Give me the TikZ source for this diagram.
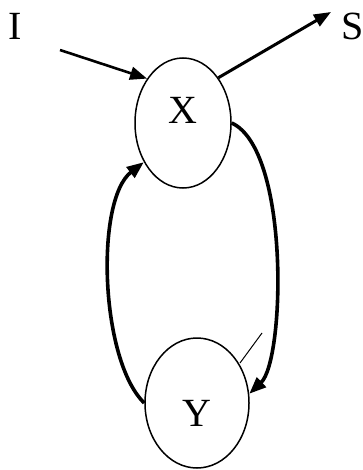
\documentclass[tikz,border=0pt]{standalone}
\usepackage{fontspec}
\setmainfont{Liberation Serif}
\usetikzlibrary{shapes.geometric,arrows.meta}
\tikzset{
  state/.style={draw=black,ellipse,line width=1.5pt,inner sep=0pt},
  lab/.style={font=\fontsize{40}{44}\selectfont},
  tip/.style={-{Triangle[length=17pt,width=13pt]}}
}
\begin{document}
\begin{tikzpicture}[x=1pt,y=-1pt]
    \useasboundingbox (0,0) rectangle (363,470);
    \node[state,minimum width=96pt,minimum height=130pt] (x) at (183,123) {};
    \node[state,minimum width=104pt,minimum height=130pt] (y) at (197,403) {};
    \node[lab] (xl) at (183,110) {X};
    \node[lab] (yl) at (197,413) {Y};
    \node[lab] (in) at (15,26) {I};
    \node[lab,anchor=west] (out) at (338,26) {S};
    \coordinate (src) at (60,50);
    \coordinate (dst) at (331,12);
    % inputs and output
    \draw[tip,line width=2.6pt] (src) -- (x.129);
    \draw[tip,line width=3pt] (x.52) -- (dst);
    % feedback loops
    \draw[tip,line width=3.6pt]
      (y.180) .. controls (100,360) and (95,200) .. (x.225);
    \draw[tip,line width=3.6pt]
      (x.0) .. controls (290,150) and (285,360) .. (y.10);
    \draw[line width=1pt] (262,333) -- (240,363);
  \end{tikzpicture}
\end{document}
